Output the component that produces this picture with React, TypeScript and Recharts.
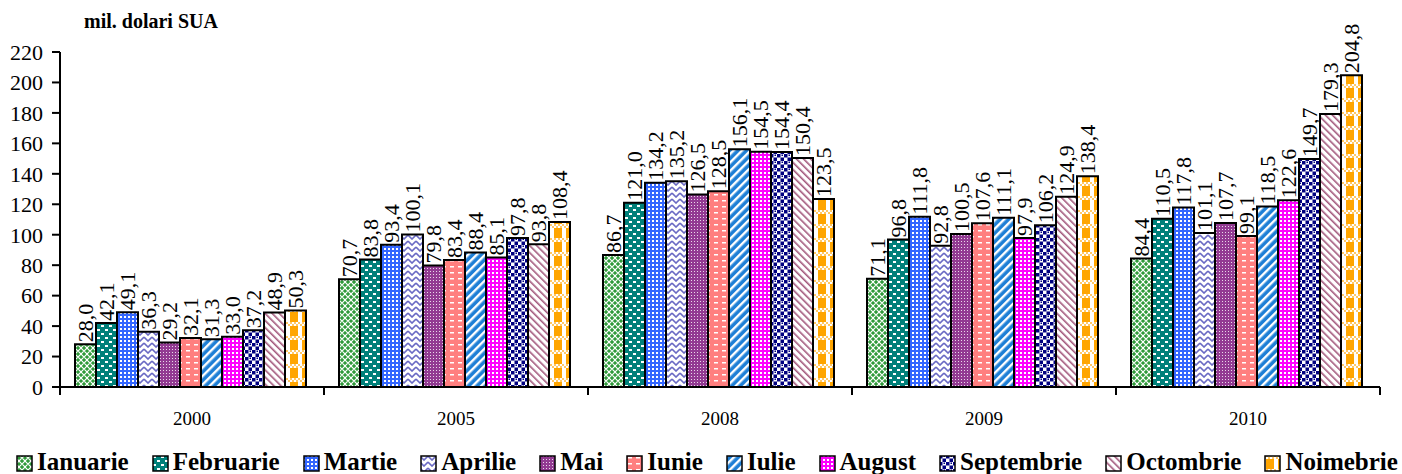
import { Bar, BarChart, LabelList, XAxis, YAxis } from "recharts";

const years = ["2000", "2005", "2008", "2009", "2010"];
const months = [
  "Ianuarie",
  "Februarie",
  "Martie",
  "Aprilie",
  "Mai",
  "Iunie",
  "Iulie",
  "August",
  "Septembrie",
  "Octombrie",
  "Noimebrie",
];

const v2000 = [28.0, 42.1, 49.1, 36.3, 29.2, 32.1, 31.3, 33.0, 37.2, 48.9, 50.3];
const v2005 = [70.7, 83.8, 93.4, 100.1, 79.8, 83.4, 88.4, 85.1, 97.8, 93.8, 108.4];
const v2008 = [86.7, 121.0, 134.2, 135.2, 126.5, 128.5, 156.1, 154.5, 154.4, 150.4, 123.5];
const v2009 = [71.1, 96.8, 111.8, 92.8, 100.5, 107.6, 111.1, 97.9, 106.2, 124.9, 138.4];
const v2010 = [84.4, 110.5, 117.8, 101.1, 107.7, 99.1, 118.5, 122.6, 149.7, 179.3, 204.8];

const yTicks = [0, 20, 40, 60, 80, 100, 120, 140, 160, 180, 200, 220];

const rows = [v2000, v2005, v2008, v2009, v2010];
const data = years.map((year, i) => {
  const row: Record<string, any> = { year };
  months.forEach((m, j) => (row[m] = rows[i][j]));
  return row;
});

const W = 1402;
const H = 474;
const M = { top: 52, right: 22, left: 0, bottom: 47 };
const Y_AXIS_W = 60;
const BAND = (W - M.left - M.right - Y_AXIS_W) / years.length;

const SERIF = "Liberation Serif, DejaVu Serif, Times New Roman, serif";

const fmt = (v: number) => v.toFixed(1).replace(".", ",");

function Patterns() {
  return (
    <svg width={0} height={0} style={{ position: "absolute" }}>
      <defs>
        {/* Ianuarie - green trellis */}
        <pattern id="p0" width="6" height="6" patternUnits="userSpaceOnUse">
          <rect width="6" height="6" fill="#2f9a3a" />
          <path d="M0 3 L3 0 L6 3 L3 6 Z" fill="none" stroke="#fff" strokeWidth="1.1" />
        </pattern>
        {/* Februarie - teal with white blocks */}
        <pattern id="p1" width="8" height="8" patternUnits="userSpaceOnUse">
          <rect width="8" height="8" fill="#00807a" />
          <rect x="1" y="1" width="3" height="2" fill="#fff" />
          <rect x="5" y="5" width="3" height="2" fill="#fff" />
        </pattern>
        {/* Martie - blue checker */}
        <pattern id="p2" width="4" height="4" patternUnits="userSpaceOnUse">
          <rect width="4" height="4" fill="#3366ff" />
          <rect x="0" y="0" width="2" height="2" fill="#fff" />
        </pattern>
        {/* Aprilie - zigzag */}
        <pattern id="p3" width="8" height="6" patternUnits="userSpaceOnUse">
          <rect width="8" height="6" fill="#fff" />
          <path d="M0 1 L4 5 L8 1" fill="none" stroke="#6a6ac4" strokeWidth="1.6" />
        </pattern>
        {/* Mai - purple dotted */}
        <pattern id="p4" width="3" height="3" patternUnits="userSpaceOnUse">
          <rect width="3" height="3" fill="#923a92" />
          <rect x="1" y="1" width="1" height="1" fill="#fff" opacity="0.8" />
        </pattern>
        {/* Iunie - salmon dashes */}
        <pattern id="p5" width="8" height="6" patternUnits="userSpaceOnUse">
          <rect width="8" height="6" fill="#ff7f7f" />
          <rect x="2" y="2" width="4" height="1.5" fill="#fff" />
        </pattern>
        {/* Iulie - blue diagonal stripes */}
        <pattern id="p6" width="6" height="6" patternUnits="userSpaceOnUse" patternTransform="rotate(45)">
          <rect width="6" height="6" fill="#1e7fd6" />
          <rect x="0" y="0" width="2.4" height="6" fill="#fff" />
        </pattern>
        {/* August - magenta checker */}
        <pattern id="p7" width="4" height="4" patternUnits="userSpaceOnUse">
          <rect width="4" height="4" fill="#ff00ff" />
          <rect x="0" y="0" width="2" height="2" fill="#fff" />
        </pattern>
        {/* Septembrie - navy dots on white */}
        <pattern id="p8" width="7" height="7" patternUnits="userSpaceOnUse">
          <rect width="7" height="7" fill="#fff" />
          <rect x="0" y="0" width="3.5" height="3.5" fill="#000080" />
          <rect x="3.5" y="3.5" width="3.5" height="3.5" fill="#000080" />
          <rect x="4.5" y="0.5" width="1.5" height="1.5" fill="#000080" />
        </pattern>
        {/* Octombrie - mauve diagonal stripes */}
        <pattern id="p9" width="5" height="5" patternUnits="userSpaceOnUse" patternTransform="rotate(-45)">
          <rect width="5" height="5" fill="#fff" />
          <rect x="0" y="0" width="1.6" height="5" fill="#a3587c" />
        </pattern>
        {/* Noimebrie - orange gingham */}
        <pattern id="p10" width="12" height="14" patternUnits="userSpaceOnUse">
          <rect width="12" height="14" fill="#ffa500" />
          <rect x="0" y="4" width="2" height="10" fill="#fff" />
          <rect x="10" y="4" width="2" height="10" fill="#fff" />
          <rect x="0" y="0" width="12" height="4" fill="#ffc866" />
          <rect x="0" y="0" width="2" height="2" fill="#fff" />
          <rect x="4" y="0" width="2" height="2" fill="#fff" />
          <rect x="8" y="0" width="2" height="2" fill="#fff" />
          <rect x="2" y="2" width="2" height="2" fill="#fff" />
          <rect x="6" y="2" width="2" height="2" fill="#fff" />
          <rect x="10" y="2" width="2" height="2" fill="#fff" />
        </pattern>
      </defs>
    </svg>
  );
}

function ValueLabel(props: any) {
  const { x, y, width, value } = props;
  const cx = x + width / 2;
  const ty = y - 2;
  return (
    <text
      x={cx}
      y={ty}
      transform={`rotate(-90 ${cx} ${ty})`}
      textAnchor="start"
      dominantBaseline="central"
      fontSize={22}
      fontFamily={SERIF}
      fill="#000"
    >
      {fmt(value)}
    </text>
  );
}

function YearTick(props: any) {
  const { x, y, payload, index } = props;
  const half = payload?.offset > 0 ? payload.offset : BAND / 2;
  return (
    <g>
      <line x1={x - half} y1={y} x2={x - half} y2={y + 8} stroke="#000" strokeWidth={2} />
      {index === years.length - 1 && (
        <line x1={x + half} y1={y} x2={x + half} y2={y + 8} stroke="#000" strokeWidth={2} />
      )}
      <text x={x} y={y + 38} textAnchor="middle" fontSize={19} fontFamily={SERIF} fill="#000">
        {payload.value}
      </text>
    </g>
  );
}

export default function App() {
  return (
    <div style={{ position: "absolute", left: 0, top: 0, width: W, height: H, background: "#fff" }}>
      <Patterns />
      <div
        style={{
          position: "absolute",
          left: 84,
          top: 10,
          fontFamily: SERIF,
          fontWeight: "bold",
          fontSize: 20,
          lineHeight: "22px",
        }}
      >
        mil. dolari SUA
      </div>
      <BarChart
        width={W}
        height={H}
        data={data}
        margin={M}
        barCategoryGap={15}
        barGap={0}
      >
        <XAxis
          dataKey="year"
          height={40}
          axisLine={{ stroke: "#000", strokeWidth: 2 }}
          tickLine={false}
          tickSize={0}
          tickMargin={0}
          tick={<YearTick />}
          interval={0}
        />
        <YAxis
          width={Y_AXIS_W}
          domain={[0, 220]}
          ticks={yTicks}
          interval={0}
          axisLine={{ stroke: "#000", strokeWidth: 2 }}
          tickLine={{ stroke: "#000", strokeWidth: 2 }}
          tickSize={8}
          tickMargin={9}
          tick={{ fontSize: 22, fill: "#000", fontFamily: SERIF }}
        />
        {months.map((m, i) => (
          <Bar
            key={m}
            dataKey={m}
            fill={`url(#p${i})`}
            stroke="#000"
            strokeWidth={2}
            isAnimationActive={false}
          >
            <LabelList dataKey={m} content={<ValueLabel />} />
          </Bar>
        ))}
      </BarChart>
      <div
        style={{
          position: "absolute",
          left: 16,
          right: 4,
          top: 448,
          display: "flex",
          justifyContent: "space-between",
          fontFamily: SERIF,
          fontWeight: "bold",
          fontSize: 25,
          lineHeight: "28px",
          whiteSpace: "nowrap",
        }}
      >
        {months.map((m, i) => (
          <span key={m} style={{ display: "flex", alignItems: "center" }}>
            <svg width={17} height={17} style={{ marginRight: 4, marginTop: 2 }}>
              <rect x={1} y={1} width={15} height={15} fill={`url(#p${i})`} stroke="#000" strokeWidth={1.5} />
            </svg>
            {m}
          </span>
        ))}
      </div>
    </div>
  );
}
